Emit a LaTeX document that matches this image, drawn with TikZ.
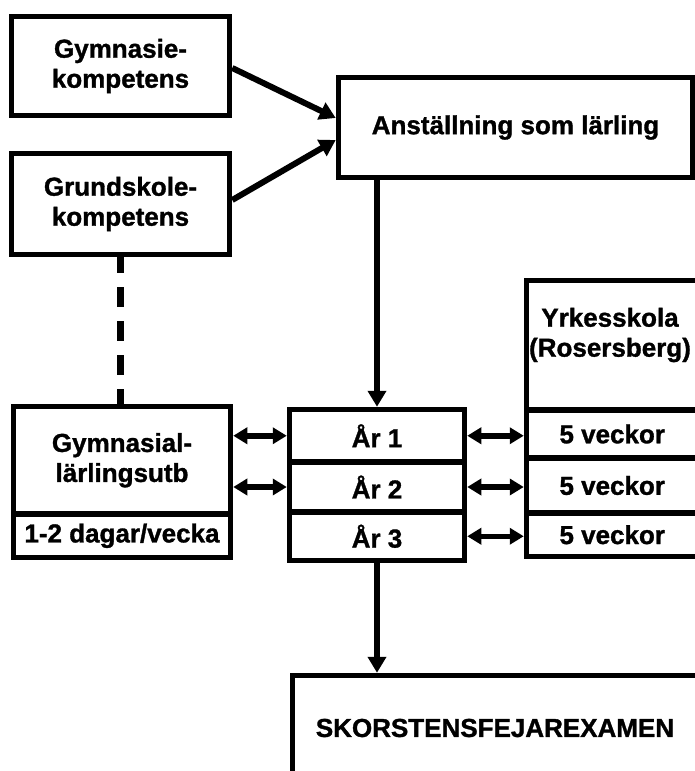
\documentclass[tikz,border=0pt]{standalone}
\usepackage{fontspec}
\setmainfont{Liberation Sans}[BoldFeatures={FakeBold=1.2}]
\usetikzlibrary{arrows.meta}

\begin{document}
\begin{tikzpicture}
  [x=1pt,y=-1pt,line width=5.5pt,
   box/.style={draw,rectangle,inner sep=0pt,align=center,font=\bfseries\fontsize{26}{30}\selectfont},
   txt/.style={inner sep=0pt,align=center,font=\bfseries\fontsize{26}{30}\selectfont},
   pil/.style={line width=6pt,-{Triangle[length=16pt,width=18pt]}},
   dpil/.style={line width=5.5pt,{Triangle[length=14pt,width=16pt]}-{Triangle[length=14pt,width=16pt]}}]
  \useasboundingbox (0,0) rectangle (695,771);

  \node[box,minimum width=218pt,minimum height=99pt] (gym) at (120.5,66) {Gymnasie-\\kompetens};
  \node[box,minimum width=218pt,minimum height=101pt] (grund) at (120.5,204) {Grundskole-\\kompetens};
  \node[box,minimum width=354pt,minimum height=100pt] (anst) at (515.5,127.5) {Anställning som lärling};

  \node[box,minimum width=217pt,minimum height=107.5pt] (gyml) at (122,460.25) {Gymnasial-\\lärlingsutb};
  \node[box,minimum width=217pt,minimum height=43.5pt] (dagar) at (122,535.75) {1-2 dagar/vecka};

  \node[box,minimum width=175pt,minimum height=52.5pt] (aar1) at (377,435.75) {År 1};
  \node[box,minimum width=175pt,minimum height=50pt] (aar2) at (377,487) {År 2};
  \node[box,minimum width=175pt,minimum height=48.5pt] (aar3) at (377,536.25) {År 3};

  \node[box,minimum width=171.5pt,minimum height=129.5pt] (yrk) at (612.25,345.25) {};
  \node[txt] (yrktxt) at (610,335) {Yrkesskola\\(Rosersberg)};
  \node[box,minimum width=171.5pt,minimum height=48pt] (veck1) at (612.25,434) {5 veckor};
  \node[box,minimum width=171.5pt,minimum height=55pt] (veck2) at (612.25,485.5) {5 veckor};
  \node[box,minimum width=171.5pt,minimum height=43.5pt] (veck3) at (612.25,534.75) {5 veckor};

  \node[box,minimum width=405pt,minimum height=105pt] (skor) at (495,728) {SKORSTENSFEJAREXAMEN};

    \draw[pil] ([yshift=-2pt]gym.east) -- ([yshift=9.5pt]anst.west);
    \draw[pil] ([yshift=4pt]grund.east) -- ([yshift=-12.5pt]anst.west);
    \draw[pil] (aar1.north |- anst.south) -- (aar1.north);

    \draw[line width=7pt,dash pattern=on 20pt off 14pt,dash phase=4pt] (grund.south) -- (grund.south |- gyml.north);

    \draw[dpil] (gyml.east |- aar1) -- (aar1.west);
    \draw[dpil] (gyml.east |- aar2) -- (aar2.west);

    \draw[dpil] (aar1.east) -- (aar1.east -| veck1.west);
    \draw[dpil] (aar2.east) -- (aar2.east -| veck2.west);
    \draw[dpil] (aar3.east) -- (aar3.east -| veck3.west);

    \draw[pil] (aar3.south) -- (aar3.south |- skor.north);

\end{tikzpicture}
\end{document}
